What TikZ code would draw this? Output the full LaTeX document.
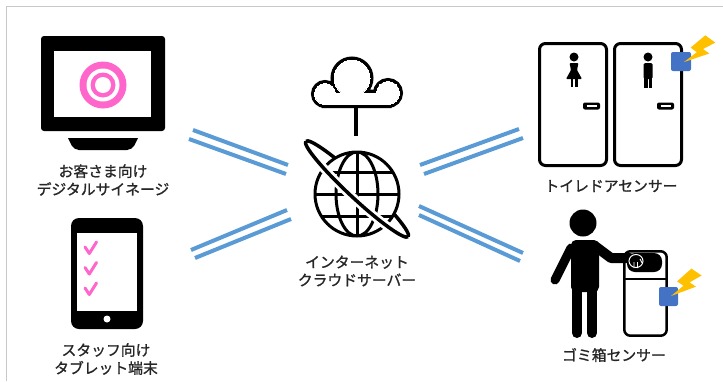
\documentclass[tikz,border=0pt]{standalone}
\usepackage{fontspec}
\newfontfamily\jpfont{Noto Sans CJK JP}[FakeBold=1.2]
\definecolor{linkblue}{RGB}{91,155,213}
\definecolor{markpink}{RGB}{255,102,204}
\definecolor{sensorblue}{RGB}{68,114,196}
\definecolor{boltyellow}{RGB}{255,192,0}
\definecolor{framegray}{RGB}{200,200,200}
\definecolor{textgray}{RGB}{38,38,38}
\begin{document}
\begin{tikzpicture}[x=1pt,y=-1pt,
  link/.style={draw=linkblue,line width=4pt},
  jplabel/.style={font=\jpfont\fontsize{14.8pt}{18pt}\selectfont,align=center,text=textgray,inner sep=0pt},
  ink/.style={line width=3pt,line join=round,line cap=round},
  sensor/.style={fill=sensorblue,rounded corners=2pt},
  bolt/.style={fill=boltyellow}]

\useasboundingbox (0,0) rectangle (723,381);
% frame lines
\draw[framegray,line width=1pt] (6,381) -- (6,6) -- (723,6);

% ---------- digital signage monitor ----------
\fill[rounded corners=3pt] (41,36) rectangle (165,131);
\fill[white] (54,51) rectangle (151,117);
\fill (68,138) -- (138,138) [rounded corners=5pt] -- (132,150) -- (74,150) [sharp corners] -- cycle;
\fill[markpink] (103,85) circle (23.5pt);
\fill[white] (103,85) circle (16.5pt);
\fill[markpink] (103,85) circle (12.5pt);
\fill[white] (103,85) circle (8pt);
\node[jplabel] (signageText) at (103,180) {お客さま向け\\デジタルサイネージ};

% ---------- staff tablet ----------
\fill[rounded corners=8pt] (71,218) rectangle (143,329);
\fill[white] (77,233) rectangle (137,311);
\fill[white] (107,319) circle (3.5pt);
\foreach \dy in {0,20.5,41}{
  \draw[markpink,line width=3pt,line cap=round,line join=round]
    (85,247+\dy) -- (89.3,253.5+\dy) -- (96.5,242+\dy);
}
\node[jplabel] (tabletText) at (106,359) {スタッフ向け\\タブレット端末};

% ---------- cloud server ----------
\begin{scope}
  \foreach \w/\c in {7pt/black,0pt/white}{
    \path[draw=\c,fill=\c,line width=\w]
      (325,94) circle (10.5pt)
      (352,78) circle (18pt)
      (388,93) circle (11.5pt)
      (325,93) rectangle (388,104.5);
  }
\end{scope}
\draw[line width=3.5pt] (356,107) -- (356,136);
% ring, back half
\begin{scope}[shift={(357,189)},rotate=-43]
  \draw[line width=3.5pt] (0:70pt and 9pt) arc[start angle=0,end angle=180,x radius=70pt,y radius=9pt];
\end{scope}
% globe
\fill[white] (357,194) circle (43pt);
\begin{scope}
  \clip (357,194) circle (42pt);
  \draw[ink] (310,172) -- (404,172);
  \draw[ink] (310,194) -- (404,194);
  \draw[ink] (310,216) -- (404,216);
  \draw[ink] (357,150) -- (357,238);
  \draw[ink] (357,194) ellipse [x radius=21pt,y radius=42pt];
\end{scope}
\draw[ink] (357,194) circle (42pt);
% ring, front half
\begin{scope}[shift={(357,189)},rotate=-43]
  \draw[white,line width=9pt] (200:70pt and 9pt) arc[start angle=200,end angle=340,x radius=70pt,y radius=9pt];
  \draw[line width=3.5pt] (180:70pt and 9pt) arc[start angle=180,end angle=360,x radius=70pt,y radius=9pt];
\end{scope}
\node[jplabel] (serverText) at (357,271) {インターネット\\クラウドサーバー};

% ---------- toilet doors ----------
\draw[line width=3pt,rounded corners=6pt] (539.5,43.5) rectangle (606.5,165.5);
\draw[line width=3pt,rounded corners=6pt] (614.5,43.5) rectangle (681.5,165.5);
\fill[rounded corners=2pt] (583,102.5) rectangle (600,109.5);
\draw[white,line width=1.2pt] (586.5,106) -- (596.5,106);
\fill[rounded corners=2pt] (657,102.5) rectangle (674,109.5);
\draw[white,line width=1.2pt] (660.5,106) -- (670.5,106);
% female sign
\fill (574,57) circle (4.5pt);
\fill[rounded corners=1pt] (569.5,63) -- (578.5,63) -- (577,70) -- (582,79) -- (566,79) -- (571,70) -- cycle;
\fill (570.5,78) rectangle (573,87);
\fill (575,78) rectangle (577.5,87);
% male sign
\fill (648,57) circle (4.5pt);
\fill[rounded corners=1.5pt] (643.5,63) rectangle (652.5,79);
\fill (644,77) rectangle (647.5,88);
\fill (648.5,77) rectangle (652,88);
% door sensor
\fill[sensor] (671,52) rectangle (691,71);
\begin{scope}[shift={(684,62)},rotate=-36,scale=1.55]
  \fill[bolt] (1,-22) -- (9,-22) -- (5,-14) -- (10,-14) -- (0,0) -- (3,-10) -- (-2,-10) -- cycle;
\end{scope}
\node[jplabel] (toiletText) at (611,186) {トイレドアセンサー};

% ---------- trash bin ----------
\fill (583,223) circle (13.5pt);
\fill[rounded corners=5pt] (571,240) rectangle (599,292);
\draw[line width=10pt,line cap=round] (577,288) -- (577,333);
\draw[line width=10pt,line cap=round] (592,288) -- (592,333);
\draw[line width=9pt,line cap=round] (571,248) -- (555,280);
\draw[line width=10pt,line cap=round,line join=round] (595,246) -- (611,258) -- (630,258);
\draw[line width=2.5pt,rounded corners=6pt] (624.3,251.3) rectangle (666.7,335.7);
\draw[line width=2pt] (624.3,279) -- (666.7,279);
\fill[rounded corners=8pt] (627,253) rectangle (662,272);
% hand
\fill[draw=white,line width=1pt] (636,261) ellipse [x radius=7pt,y radius=6.5pt];
\draw[white,line width=0.9pt] (634,262) -- (634,268) (637.5,262) -- (637.5,268) (640,259) -- (642,263);
% bin sensor
\fill[sensor] (659,287) rectangle (678,306);
\begin{scope}[shift={(671,296)},rotate=-34,scale=1.55]
  \fill[bolt] (1,-22) -- (9,-22) -- (5,-14) -- (10,-14) -- (0,0) -- (3,-10) -- (-2,-10) -- cycle;
\end{scope}
\node[jplabel] (trashText) at (614,355) {ゴミ箱センサー};

% ---------- network links ----------
\coordinate (ulA1) at (193,130); \coordinate (ulB1) at (288,165);
\coordinate (ulA2) at (189,139); \coordinate (ulB2) at (286,174);
\coordinate (llA1) at (191,250); \coordinate (llB1) at (287,210);
\coordinate (llA2) at (195,258); \coordinate (llB2) at (291,219);
\coordinate (urA1) at (420,165); \coordinate (urB1) at (519,129);
\coordinate (urA2) at (424,174); \coordinate (urB2) at (523,138);
\coordinate (lrA1) at (419,206); \coordinate (lrB1) at (523,253);
\coordinate (lrA2) at (419,215); \coordinate (lrB2) at (520,261);
\foreach \p in {ul,ll,ur,lr}{
  \draw[link] (\p A1) -- (\p B1);
  \draw[link] (\p A2) -- (\p B2);
}
\end{tikzpicture}
\end{document}
